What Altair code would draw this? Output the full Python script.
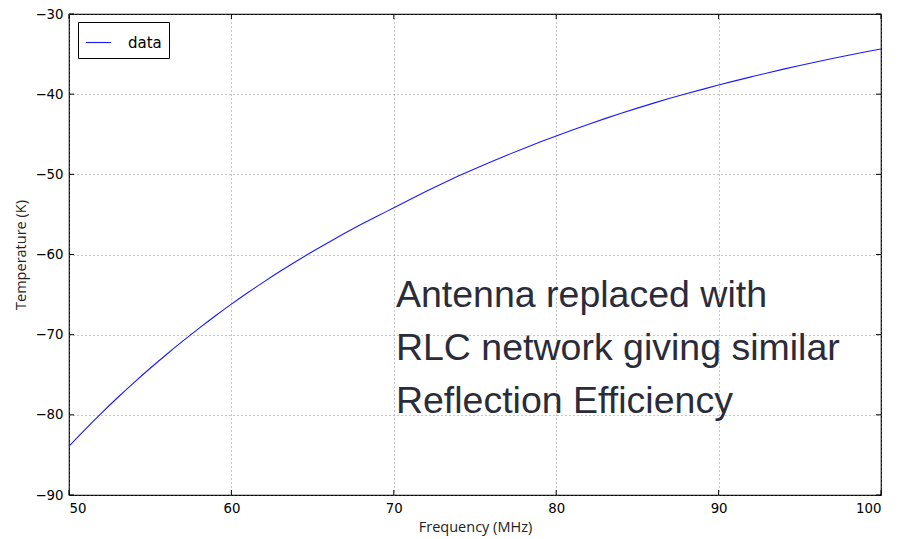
import altair as alt
import pandas as pd

# Measured receiver temperature with the antenna swapped for an RLC network
freq_mhz = list(range(50, 101))
temperature_k = [
    -83.9, -81.8, -79.78, -77.84, -75.98, -74.19, -72.47, -70.81, -69.21, -67.67,
    -66.19, -64.77, -63.41, -62.1, -60.84, -59.63, -58.46, -57.33, -56.24, -55.19,
    -54.18, -53.13, -52.11, -51.13, -50.19, -49.29, -48.42, -47.58, -46.77, -45.98,
    -45.21, -44.46, -43.74, -43.05, -42.38, -41.74, -41.12, -40.52, -39.95, -39.4,
    -38.86, -38.34, -37.84, -37.35, -36.88, -36.42, -35.98, -35.55, -35.14, -34.74,
    -34.36,
]
series_name = "data"

x_ticks = [50, 60, 70, 80, 90, 100]
y_ticks = [-90, -80, -70, -60, -50, -40, -30]

note_lines = ["Antenna replaced with", "RLC network giving similar", "Reflection Efficiency"]
note_x = 70.13
note_y = -66.55

W, H = 812, 481
FONT = "DejaVu Sans"
TITLE_FONT = "Open Sans"

df = pd.DataFrame({"freq": freq_mhz, "temp": temperature_k, "series": series_name})
xt = pd.DataFrame({"v": x_ticks})
yt = pd.DataFrame({"v": y_ticks})

xscale = alt.Scale(domain=[50, 100], nice=False, zero=False)
yscale = alt.Scale(domain=[-90, -30], nice=False, zero=False)

x_axis = alt.Axis(values=x_ticks, title="Frequency (MHz)", grid=True, gridDash=[1, 3],
                  gridColor="#777777", gridWidth=0.8, tickSize=0, labelPadding=6,
                  domain=False, labelFontSize=13.3, titleFontSize=14.5,
                  titlePadding=6, labelFont=FONT, titleFont=TITLE_FONT,
                  titleFontWeight="normal", labelColor="#000", titleColor="#222")
y_axis = alt.Axis(values=y_ticks, title="Temperature (K)", grid=True, gridDash=[1, 3],
                  gridColor="#777777", gridWidth=0.8, tickSize=0, labelPadding=6,
                  domain=False, labelFontSize=13.3, titleFontSize=14.5,
                  titlePadding=6, labelFont=FONT, titleFont=TITLE_FONT,
                  titleFontWeight="normal", labelColor="#000", titleColor="#222")

line = alt.Chart(df).mark_line(strokeWidth=1.1, interpolate="monotone").encode(
    x=alt.X("freq:Q", scale=xscale, axis=x_axis),
    y=alt.Y("temp:Q", scale=yscale, axis=y_axis),
    color=alt.Color("series:N", scale=alt.Scale(range=["#1a1aff"]),
                    legend=alt.Legend(title=None, orient="none", legendX=9, legendY=8,
                                      strokeColor="#000", fillColor="#fff",
                                      padding=7, cornerRadius=0,
                                      symbolType="stroke", symbolSize=625,
                                      symbolStrokeWidth=1.1,
                                      labelFontSize=15, labelFont=FONT,
                                      labelOffset=16, labelColor="#000")),
)

# inward tick marks on all four sides
tick_len = 5
yt_left = alt.Chart(yt).mark_rule(color="#000").encode(
    y=alt.Y("v:Q", scale=yscale), x=alt.value(0), x2=alt.value(tick_len))
yt_right = alt.Chart(yt).mark_rule(color="#000").encode(
    y=alt.Y("v:Q", scale=yscale), x=alt.value(W - tick_len), x2=alt.value(W))
xt_bottom = alt.Chart(xt).mark_rule(color="#000").encode(
    x=alt.X("v:Q", scale=xscale), y=alt.value(H - tick_len), y2=alt.value(H))
xt_top = alt.Chart(xt).mark_rule(color="#000").encode(
    x=alt.X("v:Q", scale=xscale), y=alt.value(0), y2=alt.value(tick_len))

note = alt.Chart(pd.DataFrame({"x": [note_x], "y": [note_y], "t": [note_lines]})).mark_text(
    align="left", baseline="alphabetic", fontSize=37.5, font="Liberation Sans",
    color="#2b2c3a", lineHeight=53,
).encode(x=alt.X("x:Q", scale=xscale), y=alt.Y("y:Q", scale=yscale), text="t")

chart = alt.layer(line, yt_left, yt_right, xt_bottom, xt_top, note).properties(
    width=W, height=H,
    autosize=alt.AutoSizeParams(type="none"),
    padding={"left": 69, "top": 14, "right": 26, "bottom": 44},
    background="white",
).configure_view(stroke="#000", strokeWidth=1.2)

chart.save("out.html", embed_options={"renderer": "svg", "actions": False})
